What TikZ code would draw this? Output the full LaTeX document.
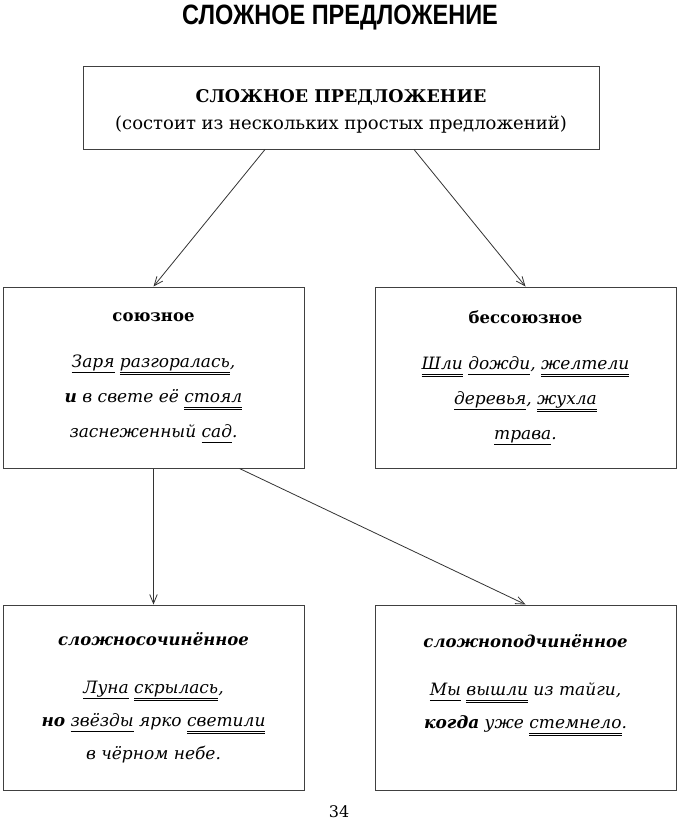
\documentclass[tikz,border=0pt]{standalone}
\usepackage{fontspec}
\setmainfont{DejaVu Serif}
\newfontfamily\titlefont[FakeStretch=0.84]{Liberation Sans}
\usetikzlibrary{positioning,arrows.meta}
% single and double underline
\newsavebox\wordbox
\newcommand\subj[1]{\leavevmode\sbox\wordbox{#1}%
  \rlap{\raisebox{-5.5pt}{\rule{\wd\wordbox}{0.9pt}}}\usebox{\wordbox}}
\newcommand\pred[1]{\leavevmode\sbox\wordbox{#1}%
  \rlap{\raisebox{-5.5pt}{\rule{\wd\wordbox}{0.9pt}}}%
  \rlap{\raisebox{-8pt}{\rule{\wd\wordbox}{0.9pt}}}\usebox{\wordbox}}
\tikzset{
mybox/.style={
  rectangle,
  draw=black!75,
  line width=1pt,
  minimum width=301pt,
  align=center,
  font=\fontsize{17}{35}\selectfont,
  inner sep=0pt
  },
myarrow/.style={
  -{Straight Barb[length=9pt,width=7.5pt]},
  draw=black!80,
  line width=0.8pt
  }
}

\begin{document}
\begin{tikzpicture}[x=1pt,y=-1pt]
\useasboundingbox (0,0) rectangle (679,827);

\node[font=\titlefont\bfseries\fontsize{28}{30}\selectfont] (title) at (340,18)
{СЛОЖНОЕ ПРЕДЛОЖЕНИЕ};

\node[mybox,minimum width=516pt,minimum height=83pt,font=\fontsize{18}{27}\selectfont]
at (341,107.5) (top)
{\rule{0pt}{21pt}{\fontsize{17.5}{27}\selectfont\textbf{СЛОЖНОЕ ПРЕДЛОЖЕНИЕ}}\\
 (состоит из нескольких простых предложений)};

\node[mybox,minimum height=181pt] at (153.5,377.5) (box1)
{{\fontsize{16.5}{35}\selectfont\textbf{союзное}}\\[11pt]
 \textit{\subj{Заря} \pred{разгоралась},}\\
 \textit{\textbf{и} в свете её \pred{стоял}}\\
 \textit{заснеженный \subj{сад}.}};

\node[mybox,minimum height=181pt] at (525.5,377.5) (box2)
{{\fontsize{16.5}{35}\selectfont\textbf{бессоюзное}}\\[11pt]
 \textit{\pred{Шли} \subj{дожди}, \pred{желтели}}\\
 \textit{\subj{деревья}, \pred{жухла}}\\
 \textit{\subj{трава}.}};

\node[mybox,minimum height=185pt] at (153.5,697.5) (box3)
{{\fontsize{16.5}{35}\selectfont\textit{\textbf{сложносочинённое}}}\\[13pt]
 \textit{\subj{Луна} \pred{скрылась},}\\[-2pt]
 \textit{\textbf{но} \subj{звёзды} ярко \pred{светили}}\\[-2pt]
 \textit{в чёрном небе.}};

\node[mybox,minimum height=185pt] at (525.5,697.5) (box4)
{{\fontsize{16.5}{35}\selectfont\textit{\textbf{сложноподчинённое}}}\\[13pt]
 \textit{\subj{Мы} \pred{вышли} из тайги,}\\[-2pt]
 \textit{\textbf{когда} уже \pred{стемнело}.}\\[-2pt]
 ~};

\node[font=\fontsize{16}{18}\selectfont] at (339,812) (page) {34};

\draw[myarrow] ([xshift=-76pt]top.south) -- (box1.north);
\draw[myarrow] ([xshift=73pt]top.south) -- (box2.north);
\draw[myarrow] (box1.south) -- (box3.north);
\draw[myarrow] ([xshift=86pt]box1.south) -- (box4.north);

\end{tikzpicture}
\end{document}
